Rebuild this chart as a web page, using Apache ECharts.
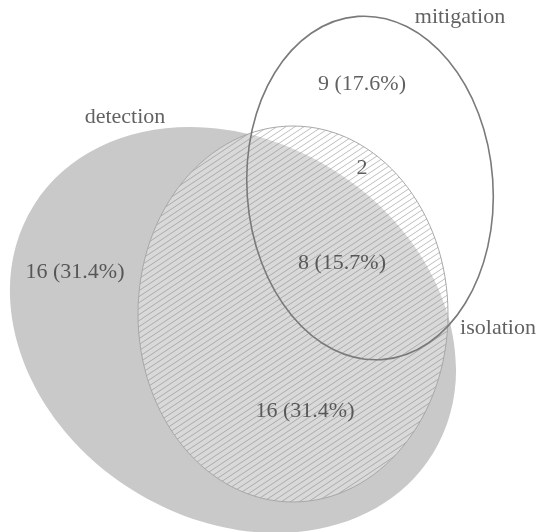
<!DOCTYPE html>
<html>
<head>
<meta charset="utf-8">
<script src="https://cdn.jsdelivr.net/npm/echarts@6/dist/echarts.min.js"></script>
<style>
  html, body { margin: 0; padding: 0; background: #fff; }
  #venn { width: 537px; height: 532px; }
</style>
</head>
<body>
<div id="venn"></div>
<script>
// sets and region counts
var setNames = ['detection', 'isolation', 'mitigation'];
var regionCounts = [16, 16, 9, 8, 2];
var regionPercents = [31.4, 31.4, 17.6, 15.7, null];

// layout (pixel-like data space, 537 x 532)
var ellipseLayout = [
    // cx, cy, rx, ry, rotation (deg)
    [233, 330, 235, 189, -32],
    [293, 314, 155, 188, 0],
    [370, 188, 123, 172, 4]
];
var setLabelPos = [[125, 117], [498, 328], [460, 17]];
var regionLabelPos = [[75, 272], [305, 411], [362, 84], [342, 263], [362, 168]];

function hatch() {
    var w = 9, h = 6;
    var c = document.createElement('canvas');
    c.width = w; c.height = h;
    var ctx = c.getContext('2d');
    ctx.strokeStyle = 'rgba(120,120,120,0.6)';
    ctx.lineWidth = 0.8;
    ctx.beginPath();
    ctx.moveTo(-w * 0.2, h * 1.2); ctx.lineTo(w * 1.2, -h * 0.2);
    ctx.moveTo(-w * 0.2, h * 0.2); ctx.lineTo(w * 0.2, -h * 0.2);
    ctx.moveTo(w * 0.8, h * 1.2); ctx.lineTo(w * 1.2, h * 0.8);
    ctx.stroke();
    return c;
}
var hatchImg = hatch();

var styles = [
    [{ fill: '#c9c9c9', stroke: null }],
    [{ fill: 'rgba(255,255,255,0.3)', stroke: null },
     { fill: { image: hatchImg, repeat: 'repeat' }, stroke: '#a8a8a8', lineWidth: 1 }],
    [{ fill: null, stroke: '#7a7a7a', lineWidth: 1.6 }]
];

var myChart = echarts.init(document.getElementById('venn'));

var option = {
    animation: false,
    grid: { left: 0, right: 0, top: 0, bottom: 0 },
    xAxis: { type: 'value', min: 0, max: 537, show: false },
    yAxis: { type: 'value', min: 0, max: 532, inverse: true, show: false },
    series: [
        {
            type: 'custom',
            data: ellipseLayout.map(function (e, i) { return e.concat([i]); }),
            renderItem: function (params, api) {
                var i = api.value(5);
                var c = api.coord([api.value(0), api.value(1)]);
                var s = api.size([api.value(2), api.value(3)]);
                var rot = api.value(4) * Math.PI / 180;
                return {
                    type: 'group',
                    children: styles[i].map(function (st) {
                        return {
                            type: 'ellipse',
                            x: c[0], y: c[1], rotation: rot,
                            shape: { cx: 0, cy: 0, rx: s[0], ry: s[1] },
                            style: st
                        };
                    })
                };
            },
            silent: true,
            z: 1
        },
        {
            type: 'scatter',
            symbolSize: 0,
            z: 5,
            label: {
                show: true, position: 'inside',
                fontFamily: 'Liberation Serif', fontSize: 22, color: '#3a3a3a',
                formatter: function (p) { return p.data[2]; }
            },
            data: regionLabelPos.map(function (p, i) {
                var t = regionPercents[i] == null ? String(regionCounts[i])
                    : regionCounts[i] + ' (' + regionPercents[i].toFixed(1) + '%)';
                return [p[0], p[1], t];
            }).concat(setLabelPos.map(function (p, i) {
                return [p[0], p[1], setNames[i]];
            }))
        }
    ]
};

myChart.setOption(option);
</script>
</body>
</html>
